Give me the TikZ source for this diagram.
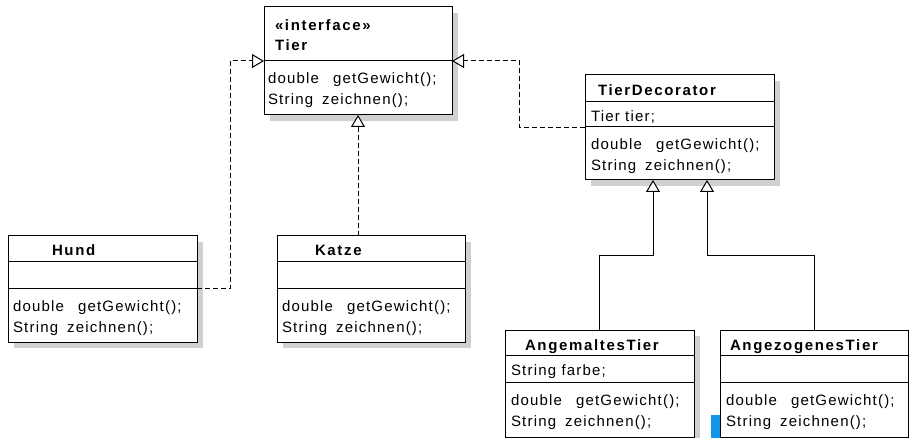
\documentclass[tikz,border=0pt]{standalone}
\usepackage{fontspec}
\setmainfont{Liberation Sans}[LetterSpace=8]
\newfontfamily\hdfont{Liberation Sans}[LetterSpace=11]
\usetikzlibrary{arrows.meta,calc,shadows}
\definecolor{shadowgray}{RGB}{208,208,208}
\definecolor{barblue}{RGB}{20,150,230}
\newcommand{\wgap}{\hspace{14pt}}
\newcommand{\sgap}{\hspace{9pt}}
\tikzset{
  x=1pt, y=-1pt,
  cls/.style={draw=black, line width=1pt, fill=white, inner sep=0pt, outer sep=0pt,
    anchor=north west,
    drop shadow={shadow xshift=6pt, shadow yshift=-6pt, fill=shadowgray, opacity=1}},
  cls0/.style={draw=black, line width=1pt, fill=white, inner sep=0pt, outer sep=0pt,
    anchor=north west},
  divider/.style={line width=1pt},
  txt/.style={inner sep=0pt, outer sep=0pt, anchor=base west, font=\fontsize{15}{20}\selectfont},
  hd/.style={inner sep=0pt, outer sep=0pt, anchor=base west, font=\fontsize{15}{20}\selectfont\hdfont\bfseries},
  impl/.style={line width=1pt, dash pattern=on 5pt off 3pt, -{Triangle[open, length=12pt, width=14pt, fill=white]}},
  gen/.style={line width=1pt, -{Triangle[open, length=12pt, width=14pt, fill=white]}},
}
\begin{document}
\begin{tikzpicture}
\path[use as bounding box] (0,0) rectangle (910,438);
\clip (0,0) rectangle (910,438);
\fill[white] (0,0) rectangle (910,438);

% boxes
\node[cls, minimum width=188pt, minimum height=108pt] (tier) at (264,7) {};
\node[cls, minimum width=189pt, minimum height=105pt] (td) at (585,75) {};
\node[cls, minimum width=189pt, minimum height=106pt] (hund) at (8,236) {};
\node[cls, minimum width=188pt, minimum height=106pt] (katze) at (277,236) {};
\node[cls, minimum width=189pt, minimum height=107pt] (angm) at (505,330) {};
\fill[barblue] (711,415) rectangle (720,440);
\node[cls0, minimum width=188pt, minimum height=107pt] (angz) at (720,330) {};

% dividers
\draw[divider] ($(tier.north west)+(0,54)$) -- ($(tier.north east)+(0,54)$);
\draw[divider] ($(td.north west)+(0,27)$) -- ($(td.north east)+(0,27)$);
\draw[divider] ($(td.north west)+(0,52)$) -- ($(td.north east)+(0,52)$);
\draw[divider] ($(hund.north west)+(0,26)$) -- ($(hund.north east)+(0,26)$);
\draw[divider] ($(hund.north west)+(0,53)$) -- ($(hund.north east)+(0,53)$);
\draw[divider] ($(katze.north west)+(0,26)$) -- ($(katze.north east)+(0,26)$);
\draw[divider] ($(katze.north west)+(0,53)$) -- ($(katze.north east)+(0,53)$);
\draw[divider] ($(angm.north west)+(0,25)$) -- ($(angm.north east)+(0,25)$);
\draw[divider] ($(angm.north west)+(0,52)$) -- ($(angm.north east)+(0,52)$);
\draw[divider] ($(angz.north west)+(0,25)$) -- ($(angz.north east)+(0,25)$);
\draw[divider] ($(angz.north west)+(0,52)$) -- ($(angz.north east)+(0,52)$);

% texts: Tier
\node[hd] (tier-st) at (275,31) {«interface»};
\node[hd] (tier-h) at (275,51) {Tier};
\node[txt] (tier-m1) at (268,84) {double\wgap getGewicht();};
\node[txt] (tier-m2) at (268,105) {String\sgap zeichnen();};
% TierDecorator
\node[hd] (td-h) at (598,96) {TierDecorator};
\node[txt] (td-a) at (591,122) {Tier tier;};
\node[txt] (td-m1) at (591,150) {double\wgap getGewicht();};
\node[txt] (td-m2) at (591,171) {String\sgap zeichnen();};
% Hund
\node[hd] (hund-h) at (52,256) {Hund};
\node[txt] (hund-m1) at (13,312) {double\wgap getGewicht();};
\node[txt] (hund-m2) at (13,332) {String\sgap zeichnen();};
% Katze
\node[hd] (katze-h) at (315,256) {Katze};
\node[txt] (katze-m1) at (282,312) {double\wgap getGewicht();};
\node[txt] (katze-m2) at (282,332) {String\sgap zeichnen();};
% AngemaltesTier
\node[hd] (angm-h) at (525,350) {AngemaltesTier};
\node[txt] (angm-a) at (511,375) {String farbe;};
\node[txt] (angm-m1) at (511,405) {double\wgap getGewicht();};
\node[txt] (angm-m2) at (511,426) {String\sgap zeichnen();};
% AngezogenesTier
\node[hd] (angz-h) at (730,350) {AngezogenesTier};
\node[txt] (angz-m1) at (726,405) {double\wgap getGewicht();};
\node[txt] (angz-m2) at (726,426) {String\sgap zeichnen();};

% connectors
\coordinate (tdl) at ($(td.south)+(-26.5,0)$);
\coordinate (tdr) at ($(td.south)+(27.5,0)$);
\draw[impl] (hund.east) -- ++(33,0) |- (tier.west);
\draw[impl] (katze.north -| tier.south) -- (tier.south);
\draw[impl] (td.west) -- ++(-66,0) |- (tier.east);
\draw[gen] (angm.north) -- ++(0,-74) -| (tdl);
\draw[gen] (angz.north) -- ++(0,-74) -| (tdr);
\end{tikzpicture}
\end{document}
